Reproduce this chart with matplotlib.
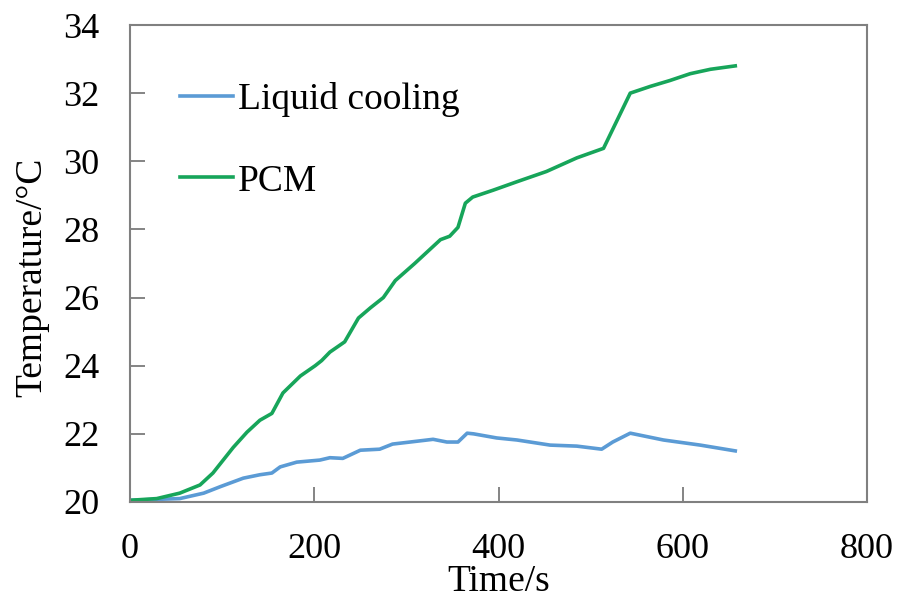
import matplotlib
matplotlib.use("Agg")
import matplotlib.pyplot as plt

# Data
liquid_t = [0, 54, 80, 98, 123, 141, 154, 163, 181, 206, 217, 231, 250, 271, 285,
            304, 329, 344, 356, 366, 373, 398, 420, 456, 485, 512, 524, 543, 579,
            619, 657]
liquid_temp = [20.05, 20.1, 20.26, 20.45, 20.7, 20.8, 20.85, 21.03, 21.17, 21.23,
               21.3, 21.28, 21.52, 21.55, 21.7, 21.76, 21.84, 21.76, 21.76, 22.02,
               22.0, 21.88, 21.82, 21.67, 21.64, 21.55, 21.76, 22.02, 21.82, 21.67,
               21.5]

pcm_t = [0, 29, 54, 76, 90, 112, 127, 141, 154, 159, 166, 185, 201, 208, 217, 233,
         248, 261, 275, 288, 309, 337, 347, 356, 364, 372, 394, 420, 452, 485, 514,
         543, 565, 586, 608, 630, 657]
pcm_temp = [20.05, 20.1, 20.26, 20.5, 20.85, 21.6, 22.05, 22.4, 22.6, 22.85, 23.2,
            23.7, 24.0, 24.15, 24.4, 24.7, 25.4, 25.7, 26.0, 26.5, 27.0, 27.7, 27.8,
            28.06, 28.77, 28.95, 29.15, 29.4, 29.7, 30.1, 30.38, 32.0, 32.2, 32.37,
            32.57, 32.7, 32.8]

x_ticks = [0, 200, 400, 600, 800]
y_ticks = [20, 22, 24, 26, 28, 30, 32, 34]

plt.rcParams["font.family"] = ["Liberation Serif", "DejaVu Serif"]

fig = plt.figure(figsize=(8.99, 6.0), dpi=100)
ax = fig.add_axes([130 / 899, 1 - 502 / 600, 737 / 899, 477 / 600])

ax.plot(liquid_t, liquid_temp, color="#5b9bd5", lw=2.6, label="Liquid cooling")
ax.plot(pcm_t, pcm_temp, color="#17a55a", lw=2.6, label="PCM")

ax.set_xlim(0, 800)
ax.set_ylim(20, 34)
ax.set_xticks(x_ticks)
ax.set_yticks(y_ticks)
ax.tick_params(axis="both", direction="in", length=11, width=1.2,
               color="#707070", labelsize=26)
ax.tick_params(axis="y", pad=22)
ax.tick_params(axis="x", pad=22)
for s in ax.spines.values():
    s.set_color("#808080")
    s.set_linewidth(1.5)

ax.set_xlabel("Time/s", fontsize=27, labelpad=-1)
ax.set_ylabel("Temperature/\u00b0C", fontsize=27)
ax.yaxis.set_label_coords(-0.11, 0.47)

leg = ax.legend(loc="upper left", bbox_to_anchor=(0.068, 0.88), frameon=False,
                fontsize=27, handlelength=1.42, handletextpad=0.13,
                labelspacing=1.25, borderaxespad=0, borderpad=0)

fig.savefig("out.png", dpi=100)
